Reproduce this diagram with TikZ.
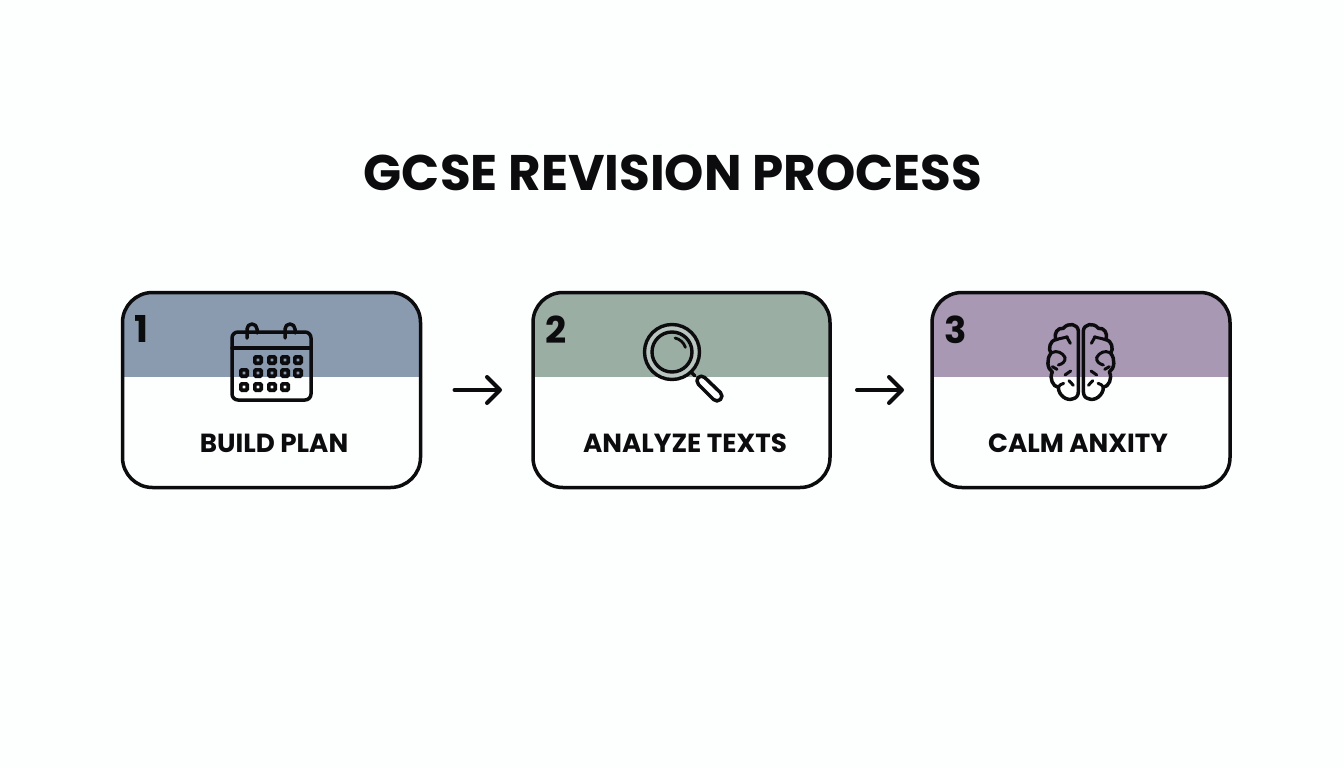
\documentclass[tikz,border=0pt]{standalone}
\usepackage{fontspec}
\setmainfont{Poppins}
\usetikzlibrary{arrows.meta}
\definecolor{bgc}{HTML}{FDFEFE}
\definecolor{inkc}{HTML}{0C0C0E}
\definecolor{hblue}{HTML}{8A9BB0}
\definecolor{hgreen}{HTML}{9BAEA4}
\definecolor{hpurple}{HTML}{A898B4}
\tikzset{
  x=1pt,y=-1pt,
  card/.style={draw=inkc,line width=3.5pt,rounded corners=30pt,minimum height=195pt,inner sep=0pt,outer sep=0pt},
  flow/.style={draw=inkc,line width=4pt,line cap=round,-{Straight Barb[length=13pt,width=26pt,round]}},
  titletext/.style={font=\bfseries\fontsize{50}{54}\selectfont,text=inkc,inner sep=0pt},
  labeltext/.style={font=\bfseries\fontsize{26.2}{30}\selectfont,text=inkc,inner sep=0pt},
  numtext/.style={font=\bfseries\fontsize{37}{40}\selectfont,text=inkc,inner sep=0pt},
  icon/.style={draw=inkc,line width=3.5pt,line cap=round,line join=round},
  thinicon/.style={draw=inkc,line width=3pt,line cap=round,line join=round},
}
\newcommand{\cardnode}[4]{% name, centre x, width, colour
  \node[card,minimum width=#3pt,path picture={
    \fill[#4,sharp corners] (path picture bounding box.north west) rectangle
      (path picture bounding box.east |- hdrline);
  }] (#1) at (#2,390) {};
}
\newcommand{\calsq}[2]{\draw[draw=inkc,line width=3.6pt,rounded corners=1pt] (#1-3.2,#2-3.2) rectangle (#1+3.2,#2+3.2);}
\newcommand{\brainhalf}{%
  \draw[icon] (160,62) .. controls (158,42) and (130,36) .. (115,55)
    .. controls (98,52) and (86,70) .. (92,88)
    .. controls (76,92) and (68,116) .. (78,130)
    .. controls (64,146) and (66,176) .. (82,186)
    .. controls (72,205) and (84,230) .. (100,232)
    .. controls (100,255) and (125,275) .. (145,266)
    .. controls (155,264) and (160,255) .. (160,245) -- cycle;
  \draw[thinicon] (92,90) .. controls (105,84) and (120,84) .. (127,80);
  \draw[thinicon] (127,84) -- (136,100);
  \draw[thinicon] (80,128) .. controls (96,120) and (112,128) .. (120,142);
  \draw[thinicon] (120,142) .. controls (122,155) and (112,162) .. (100,165);
  \draw[thinicon] (82,170) -- (96,178);
  \draw[thinicon] (137,183) -- (120,195);
  \draw[thinicon] (100,232) .. controls (102,226) and (108,222) .. (116,220);
  \draw[thinicon] (132,212) -- (145,226);
}
\begin{document}
\begin{tikzpicture}
\path[fill=bgc] (0,0) rectangle (1344,768);
\useasboundingbox (0,0) rectangle (1344,768);
\coordinate (hdrline) at (0,377);
\node[titletext] (title) at (673,173) {GCSE REVISION PROCESS};

\cardnode{a}{271.5}{298}{hblue}
\cardnode{b}{681.5}{297}{hgreen}
\cardnode{c}{1081}{298}{hpurple}

\node[numtext,anchor=center] (n1) at (141,329) {1};
\node[numtext,anchor=center] (n2) at (556,330) {2};
\node[numtext,anchor=center] (n3) at (956,330) {3};

\node[labeltext] (l1) at (274,443) {BUILD PLAN};
\node[labeltext] (l2) at (685,443) {ANALYZE TEXTS};
\node[labeltext] (l3) at (1078,443) {CALM ANXITY};

\draw[flow,shorten <=34pt,shorten >=31pt] (a.east) -- (b.west);
\draw[flow,shorten <=27pt,shorten >=28pt] (b.east) -- (c.west);

% calendar
\draw[icon,rounded corners=6pt] (232,332) rectangle (311,400);
\draw[icon] (232,348) -- (311,348);
\draw[icon] (247,338) -- (247,329) arc[start angle=180,end angle=360,radius=5] -- (257,333);
\draw[icon] (285,338) -- (285,329) arc[start angle=180,end angle=360,radius=5] -- (295,333);
\foreach \px in {258,272,285,298} {\calsq{\px}{360}}
\foreach \px in {244,258,272,285,298} {\calsq{\px}{373}}
\foreach \px in {244,258,272,285} {\calsq{\px}{387}}

% magnifier
\fill[white!30!hgreen] (672,352) circle[radius=27];
\fill[hgreen] (672,352) circle[radius=20];
\draw[icon,line width=3.4pt] (672,352) circle[radius=27.5];
\draw[icon,line width=3.4pt] (672,352) circle[radius=20];
\draw[icon,line width=2.8pt] (675,338) arc[start angle=-78,end angle=-18,radius=14];
\draw[icon] (691,372) -- (695,376);
\draw[icon,fill=white,rounded corners=5pt] (695,381) -- (701,374) -- (724,396) -- (717,403) -- cycle;

% brain
\begin{scope}[shift={(1025,310)},x=0.3333pt,y=-0.3333pt]
  \brainhalf
\end{scope}
\begin{scope}[shift={(1136.7,310)},x=-0.3333pt,y=-0.3333pt]
  \brainhalf
\end{scope}
\end{tikzpicture}
\end{document}
